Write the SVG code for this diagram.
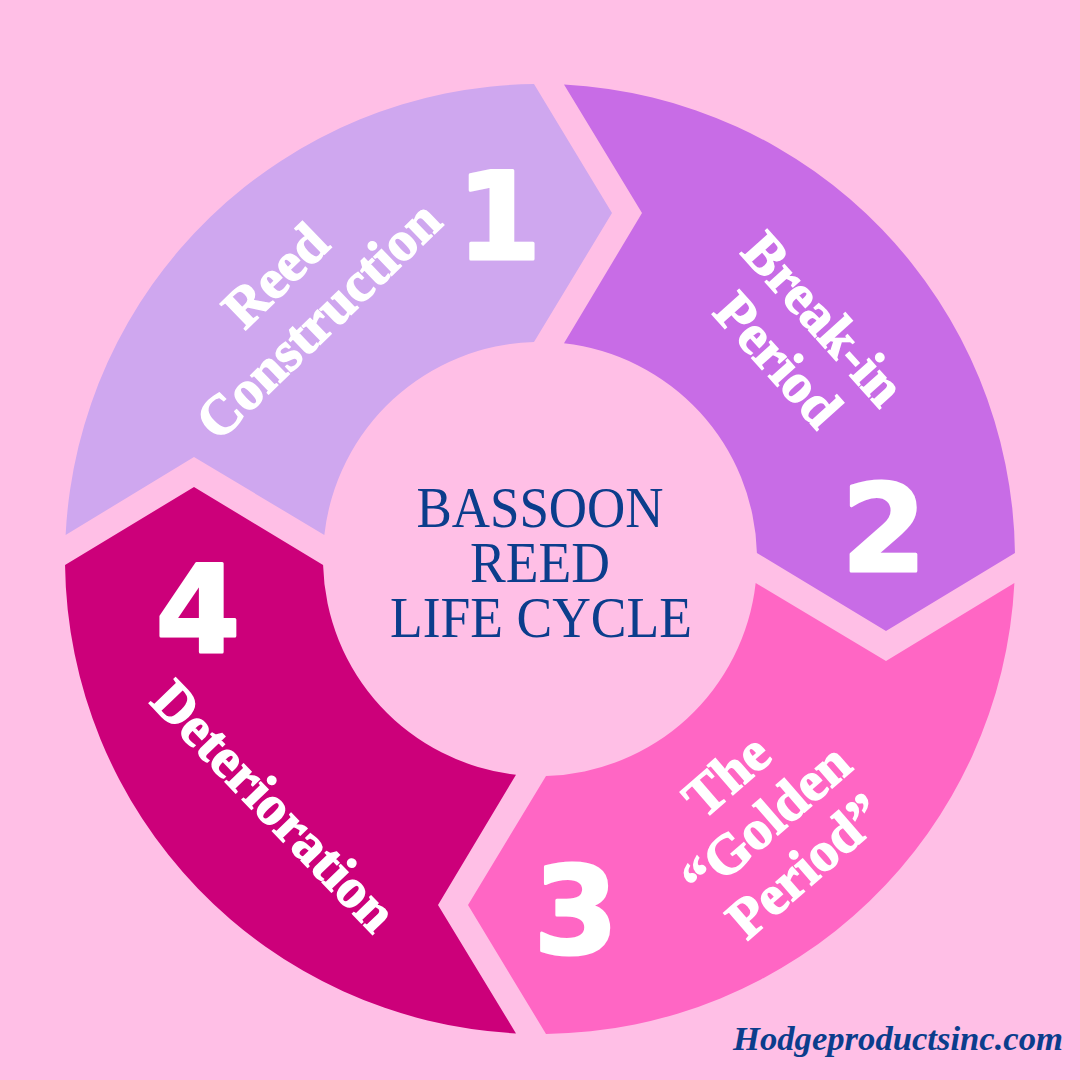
<svg xmlns="http://www.w3.org/2000/svg" xmlns:xlink="http://www.w3.org/1999/xlink" width="1080" height="1080" viewBox="0 0 1080 1080">
  <style>
    .lbl { font-family: "Liberation Serif", "DejaVu Serif", serif; font-weight: bold; font-size: 56px; fill: #ffffff; stroke: #ffffff; stroke-width: 1.4px; text-anchor: middle; }
    .num { font-family: "DejaVu Sans", "Liberation Sans", sans-serif; font-weight: bold; font-size: 122px; fill: #ffffff; stroke: #ffffff; stroke-width: 3px; stroke-linejoin: round; text-anchor: middle; }
    .title { font-family: "Liberation Serif", "DejaVu Serif", serif; font-size: 57px; fill: #0b3d8c; text-anchor: middle; }
    .foot { font-family: "Liberation Serif", "DejaVu Serif", serif; font-weight: bold; font-style: italic; font-size: 34px; fill: #0b3d8c; }
  </style>
  <defs>
    <path id="seg" d="M 65.61 535 A 475 475 0 0 1 534 84.04 L 612 213 L 534 342.08 A 217 217 0 0 0 324.33 535 L 194 457 Z"/>
  </defs>
  <rect x="0" y="0" width="1080" height="1080" fill="#ffbfe6"/>

  <g id="node1">
    <use xlink:href="#seg" href="#seg" fill="#cfa7ef"/>
    <g transform="translate(298 299) rotate(-44)">
      <text class="lbl" x="0" y="-14">Reed</text>
      <text class="lbl" x="0" y="48">Construction</text>
    </g>
    <text class="num" x="499" y="259">1</text>
  </g>

  <g id="node2">
    <use xlink:href="#seg" href="#seg" fill="#c86ce6" transform="rotate(90 540 559)"/>
    <g transform="translate(800 340) rotate(48)">
      <text class="lbl" x="0" y="-13">Break-in</text>
      <text class="lbl" x="0" y="48">Period</text>
    </g>
    <text class="num" x="884" y="571">2</text>
  </g>

  <g id="node3">
    <use xlink:href="#seg" href="#seg" fill="#ff66c4" transform="rotate(180 540 559)"/>
    <g transform="translate(767 822) rotate(-41)">
      <text class="lbl" x="0" y="-43">The</text>
      <text class="lbl" x="0" y="17">“Golden</text>
      <text class="lbl" x="0" y="77">Period”</text>
    </g>
    <text class="num" x="576" y="953">3</text>
  </g>

  <g id="node4">
    <use xlink:href="#seg" href="#seg" fill="#cc007a" transform="rotate(270 540 559)"/>
    <g transform="translate(273 807) rotate(46)">
      <text class="lbl" x="0" y="17">Deterioration</text>
    </g>
    <text class="num" x="198" y="652">4</text>
  </g>

  <g id="center">
    <text class="title" x="540" y="527" textLength="247" lengthAdjust="spacingAndGlyphs">BASSOON</text>
    <text class="title" x="540" y="582" textLength="140" lengthAdjust="spacingAndGlyphs">REED</text>
    <text class="title" x="541" y="637" textLength="302" lengthAdjust="spacingAndGlyphs">LIFE CYCLE</text>
  </g>

  <g id="connectors"/>

  <text class="foot" x="733" y="1050" textLength="330" lengthAdjust="spacingAndGlyphs">Hodgeproductsinc.com</text>
</svg>
